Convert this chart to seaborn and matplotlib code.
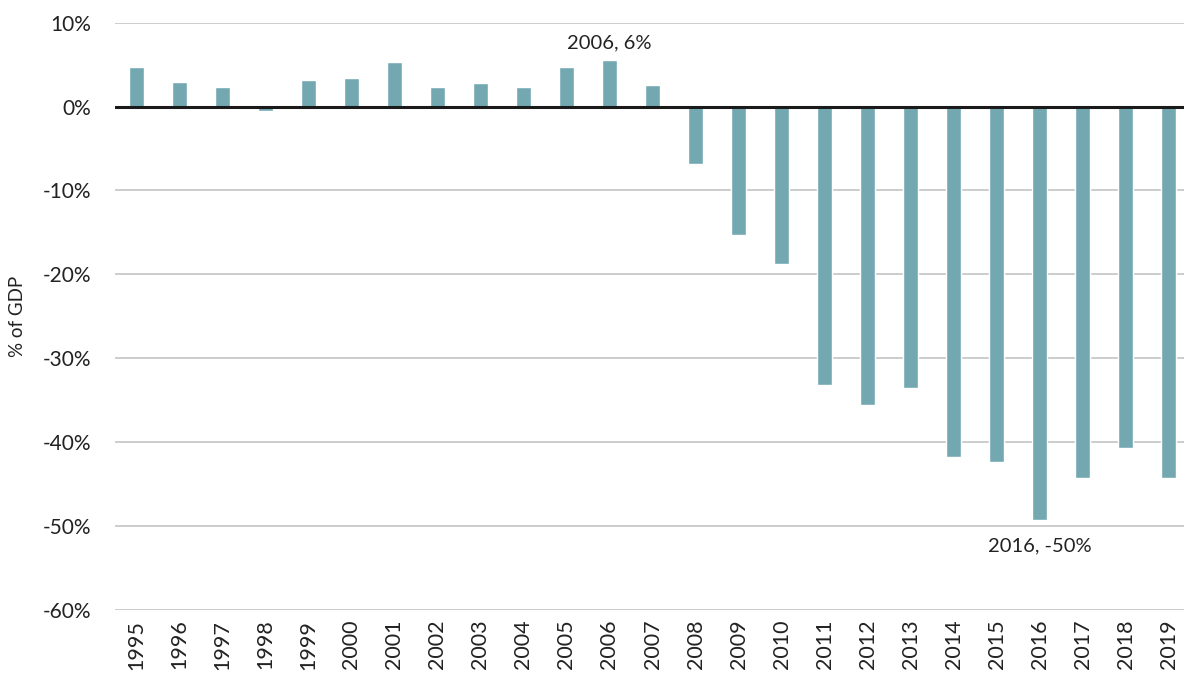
import matplotlib
matplotlib.use("Agg")
import matplotlib.pyplot as plt
import seaborn as sns
import pandas as pd

years = [str(y) for y in range(1995, 2020)]
values = [4.7, 2.9, 2.3, -0.5, 3.2, 3.4, 5.3, 2.3, 2.8, 2.3, 4.7, 5.6, 2.6,
          -6.8, -15.3, -18.8, -33.2, -35.6, -33.5, -41.8, -42.4, -49.3, -44.3, -40.7, -44.3]
yticks = [10, 0, -10, -20, -30, -40, -50, -60]
notes = [("2006", 7.6, "2006, 6%"), ("2016", -52.4, "2016, -50%")]

sns.set_theme(style="white")
plt.rcParams["font.family"] = ["Lato", "DejaVu Sans"]

df = pd.DataFrame({"year": years, "value": values})

fig = plt.figure(figsize=(11.84, 6.73), dpi=100)
ax = fig.add_axes([0.0971, 0.0936, 0.908, 0.8727])

sns.barplot(data=df, x="year", y="value", color="#73a8b1", width=0.37,
            saturation=1, ax=ax, zorder=3)

ax.set_ylim(-60, 10)
ax.set_xlim(-0.5, len(years) - 0.5)
ax.set_yticks(yticks)
ax.set_yticklabels([f"{t}%" for t in yticks])
for t in yticks:
    if t != 0:
        ax.axhline(t, color="#c4c4c4", lw=1.2, zorder=1)
ax.axhline(0, color="#1a1a1a", lw=2.2, zorder=4)

for s in ax.spines.values():
    s.set_visible(False)
ax.tick_params(axis="y", length=0, pad=17, labelsize=15, labelcolor="#222222")
ax.tick_params(axis="x", length=0, pad=7, labelsize=15.5, labelcolor="#222222", rotation=90)
ax.set_xlabel("")
ax.set_ylabel("% of GDP", fontsize=13.5, color="#222222", labelpad=14)
ax.yaxis.set_label_coords(-0.083, 0.5)

for yr, yv, txt in notes:
    ax.text(years.index(yr), yv, txt, ha="center", va="center", fontsize=14.5, color="#222222")

fig.savefig("out.png", dpi=100)
